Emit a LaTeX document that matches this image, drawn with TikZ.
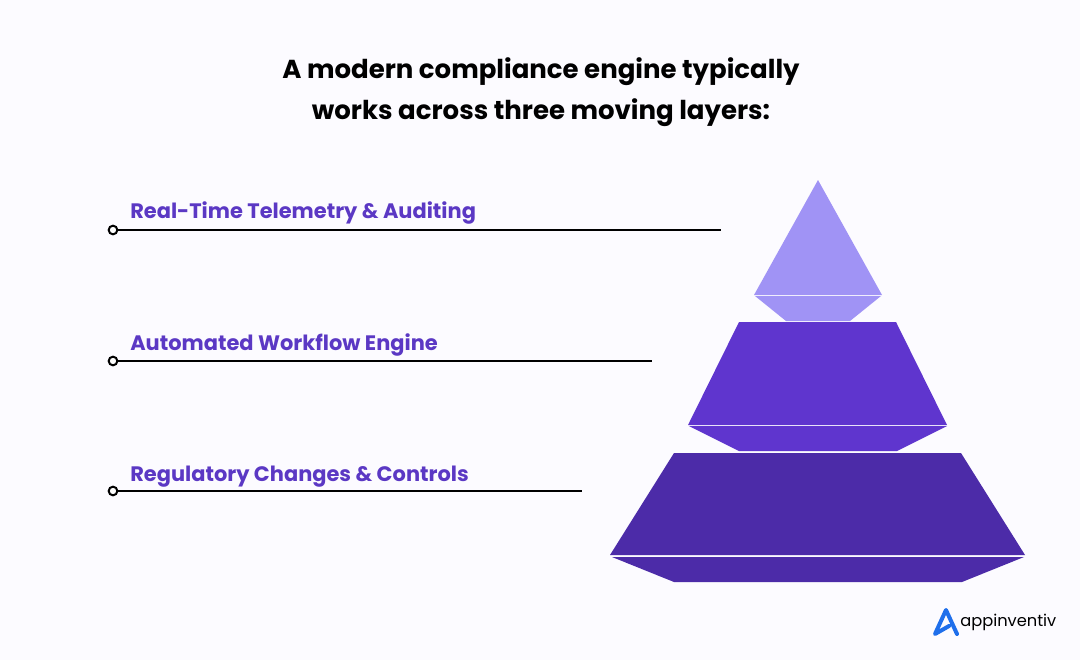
\documentclass[tikz,border=0pt]{standalone}
\usepackage{fontspec}
\setmainfont{Poppins}
\definecolor{pagebg}{HTML}{FCFBFF}
\definecolor{toplayer}{HTML}{A093F5}
\definecolor{midlayer}{HTML}{5F35CE}
\definecolor{lowlayer}{HTML}{4C2BA8}
\definecolor{labeltext}{HTML}{5B38C4}
\definecolor{logoblue}{HTML}{1F6FEB}
\begin{document}
\begin{tikzpicture}[x=0.75pt,y=-0.75pt]
	\tikzstyle{title} = [font=\bfseries\fontsize{19.5}{30.7}\selectfont, text=black, align=center, inner sep=0pt]
	\tikzstyle{layerlabel} = [font=\bfseries\fontsize{15.7}{18}\selectfont, text=labeltext, anchor=base west, inner sep=0pt]
	\tikzstyle{dot} = [draw=black, fill=white, circle, line width=1.5pt, minimum size=6.5pt, inner sep=0pt]
	\tikzstyle{leader} = [draw=black, line width=1.6pt]
	\tikzstyle{brand} = [font=\fontsize{12.2}{16}\selectfont, text=black, anchor=base west, inner sep=0pt]

	\fill[pagebg] (0,0) rectangle (1080,660);

	\node[title] (heading) at (541,92.5) {A modern compliance engine typically\\works across three moving layers:};

	\fill[toplayer] (818,180) -- (882,295) -- (754,295) -- cycle;
	\fill[toplayer] (755,296) -- (881,296) -- (850,321) -- (786,321) -- cycle;
	\fill[midlayer] (739,322) -- (896,322) -- (947,425) -- (688,425) -- cycle;
	\fill[midlayer] (689,426) -- (947,426) -- (897,451) -- (739,451) -- cycle;
	\fill[lowlayer] (674,453) -- (961,453) -- (1025,555) -- (610,555) -- cycle;
	\fill[lowlayer] (612,557) -- (1024,557) -- (962,582) -- (674,582) -- cycle;

	\node[layerlabel] (telemetry) at (130,218) {Real-Time Telemetry \& Auditing};
	\node[layerlabel] (workflow) at (130,350) {Automated Workflow Engine};
	\node[layerlabel] (controls) at (130,481) {Regulatory Changes \& Controls};

	\node[dot] (teledot) at (113,230) {};
	\node[dot] (workdot) at (113,361) {};
	\node[dot] (ctrldot) at (113,491) {};
	\coordinate (teleend) at (721,230);
	\coordinate (workend) at (652,361);
	\coordinate (ctrlend) at (582,491);
	\draw[leader] (teledot) -- (teleend);
	\draw[leader] (workdot) -- (workend);
	\draw[leader] (ctrldot) -- (ctrlend);

	\draw[logoblue, line width=3pt, line cap=round, line join=round] (957,634) -- (946,610) -- (935,634) -- (949,626);
	\node[brand] (logo) at (960,626) {appinventiv};
\end{tikzpicture}
\end{document}
